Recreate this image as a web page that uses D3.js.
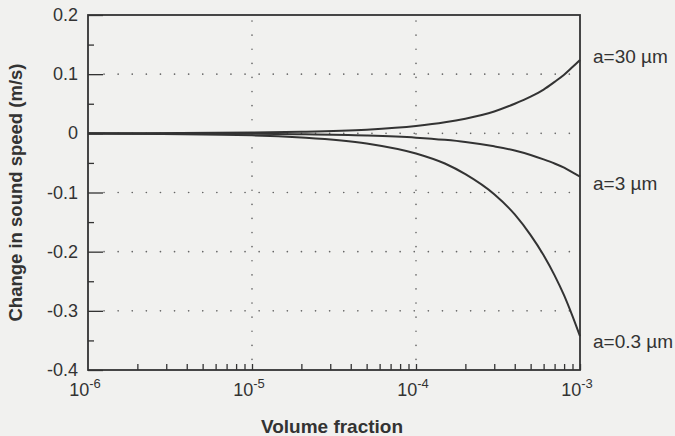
<!DOCTYPE html>
<html>
<head>
<meta charset="utf-8">
<script src="https://cdn.jsdelivr.net/npm/d3@7"></script>
<style>
    body { margin: 0; background: #f1f1ef; }
    svg { display: block; font-family: "Liberation Sans", Arial, sans-serif; }
</style>
</head>
<body>
<div id="chart"></div>
<script>
// volume fraction samples (x) and change in sound speed (m/s) per particle radius
const fractions = [1e-6, 1e-5, 2e-5, 5e-5, 1e-4, 1.5e-4, 2e-4, 3e-4, 4e-4, 5e-4, 6e-4, 7e-4, 8e-4, 9e-4, 1e-3];
const speed30 = [0.0001, 0.0012, 0.0025, 0.0062, 0.0124, 0.0186, 0.0248, 0.037, 0.050, 0.062, 0.074, 0.087, 0.099, 0.112, 0.124];
const speed3 = [-0.0001, -0.0007, -0.0015, -0.0037, -0.0073, -0.011, -0.0146, -0.022, -0.029, -0.0365, -0.044, -0.051, -0.058, -0.066, -0.073];
const speed03 = [-0.0003, -0.0034, -0.0069, -0.017, -0.034, -0.051, -0.069, -0.103, -0.137, -0.172, -0.206, -0.24, -0.274, -0.309, -0.343];
const seriesLabels = ["a=30 µm", "a=3 µm", "a=0.3 µm"];
const yTicks = [-0.4, -0.3, -0.2, -0.1, 0, 0.1, 0.2];
const yGrid = [-0.3, -0.2, -0.1, 0, 0.1];
const xMajor = [1e-6, 1e-5, 1e-4, 1e-3];
const xGrid = [1e-5, 1e-4];

const width = 675, height = 436;
const margin = {top: 15, right: 95, bottom: 66, left: 88};
const ink = "#333";

const svg = d3.select("#chart").append("svg")
    .attr("width", width)
    .attr("height", height);

const x = d3.scaleLog().domain([1e-6, 1e-3]).range([margin.left, width - margin.right]);
const y = d3.scaleLinear().domain([-0.4, 0.2]).range([height - margin.bottom, margin.top]);

//dotted grid
svg.append("g").selectAll("line")
    .data(yGrid)
    .enter().append("line")
    .attr("x1", x(1e-6) + 16).attr("x2", x(1e-3) - 6)
    .attr("y1", d => y(d)).attr("y2", d => y(d))
    .attr("stroke", "#666").attr("stroke-width", 1.6)
    .attr("stroke-linecap", "round")
    .attr("stroke-dasharray", "0.1 14");

svg.append("g").selectAll("line")
    .data(xGrid)
    .enter().append("line")
    .attr("x1", d => x(d)).attr("x2", d => x(d))
    .attr("y1", y(0.2) + 6).attr("y2", y(-0.4) - 4)
    .attr("stroke", "#666").attr("stroke-width", 1.6)
    .attr("stroke-linecap", "round")
    .attr("stroke-dasharray", "0.1 14");

//left axis, ticks inward
const yAxis = d3.axisRight(y)
    .tickValues(d3.range(-0.4, 0.2001, 0.05))
    .tickSize(0)
    .tickFormat("");
const yAxisG = svg.append("g").attr("transform", `translate(${margin.left},0)`).call(yAxis);
yAxisG.select(".domain").remove();
yAxisG.selectAll(".tick line")
    .attr("x2", (d) => Math.abs(Math.round(d * 10) - d * 10) < 1e-6 ? 15 : 6)
    .attr("stroke", ink).attr("stroke-width", 1.3);

svg.append("g").selectAll("text")
    .data(yTicks)
    .enter().append("text")
    .attr("x", margin.left - 10)
    .attr("y", d => y(d) + 6)
    .attr("text-anchor", "end")
    .attr("font-size", 18)
    .attr("fill", ink)
    .text(d => d === 0 ? "0" : d.toFixed(1));

//bottom axis, minor ticks inward
const minor = [];
for (let e = -6; e < -3; e++) {
    for (let m = 2; m <= 10; m++) minor.push(m * Math.pow(10, e));
}
const xAxis = d3.axisTop(x).tickValues(minor).tickSize(6).tickFormat("");
const xAxisG = svg.append("g").attr("transform", `translate(0,${height - margin.bottom})`).call(xAxis);
xAxisG.select(".domain").remove();
xAxisG.selectAll(".tick line").attr("stroke", ink).attr("stroke-width", 1.3);

const xLab = svg.append("g").selectAll("text")
    .data(xMajor)
    .enter().append("text")
    .attr("x", d => x(d) - 3)
    .attr("y", height - margin.bottom + 26)
    .attr("text-anchor", "middle")
    .attr("font-size", 18)
    .attr("fill", ink);
xLab.append("tspan").text("10");
xLab.append("tspan")
    .attr("dy", -8)
    .attr("font-size", 13)
    .text(d => String(Math.round(Math.log10(d))));

//frame
svg.append("rect")
    .attr("x", x(1e-6)).attr("y", y(0.2))
    .attr("width", x(1e-3) - x(1e-6))
    .attr("height", y(-0.4) - y(0.2))
    .attr("fill", "none")
    .attr("stroke", ink).attr("stroke-width", 1.8);

//curves
const line = d3.line()
    .x(d => x(d[0]))
    .y(d => y(d[1]))
    .curve(d3.curveMonotoneX);

const labelShift = [3, 13, 12];
const allSeries = [speed30, speed3, speed03];
allSeries.forEach((s, i) => {
    const pts = fractions.map((f, j) => [f, s[j]]);
    svg.append("path")
        .datum(pts)
        .attr("d", line)
        .attr("fill", "none")
        .attr("stroke", ink)
        .attr("stroke-width", 2);
    svg.append("text")
        .attr("x", x(1e-3) + 13)
        .attr("y", y(s[s.length - 1]) + labelShift[i])
        .attr("font-size", 19)
        .attr("fill", ink)
        .text(seriesLabels[i]);
});

//axis titles
svg.append("text")
    .attr("x", (x(1e-6) + x(1e-3)) / 2 - 2)
    .attr("y", height - 3)
    .attr("text-anchor", "middle")
    .attr("font-size", 19)
    .attr("font-weight", "bold")
    .attr("fill", ink)
    .text("Volume fraction");

svg.append("text")
    .attr("transform", `translate(22,${(y(0.2) + y(-0.4)) / 2}) rotate(-90)`)
    .attr("text-anchor", "middle")
    .attr("font-size", 18.5)
    .attr("font-weight", "bold")
    .attr("fill", ink)
    .text("Change in sound speed (m/s)");
</script>
</body>
</html>
